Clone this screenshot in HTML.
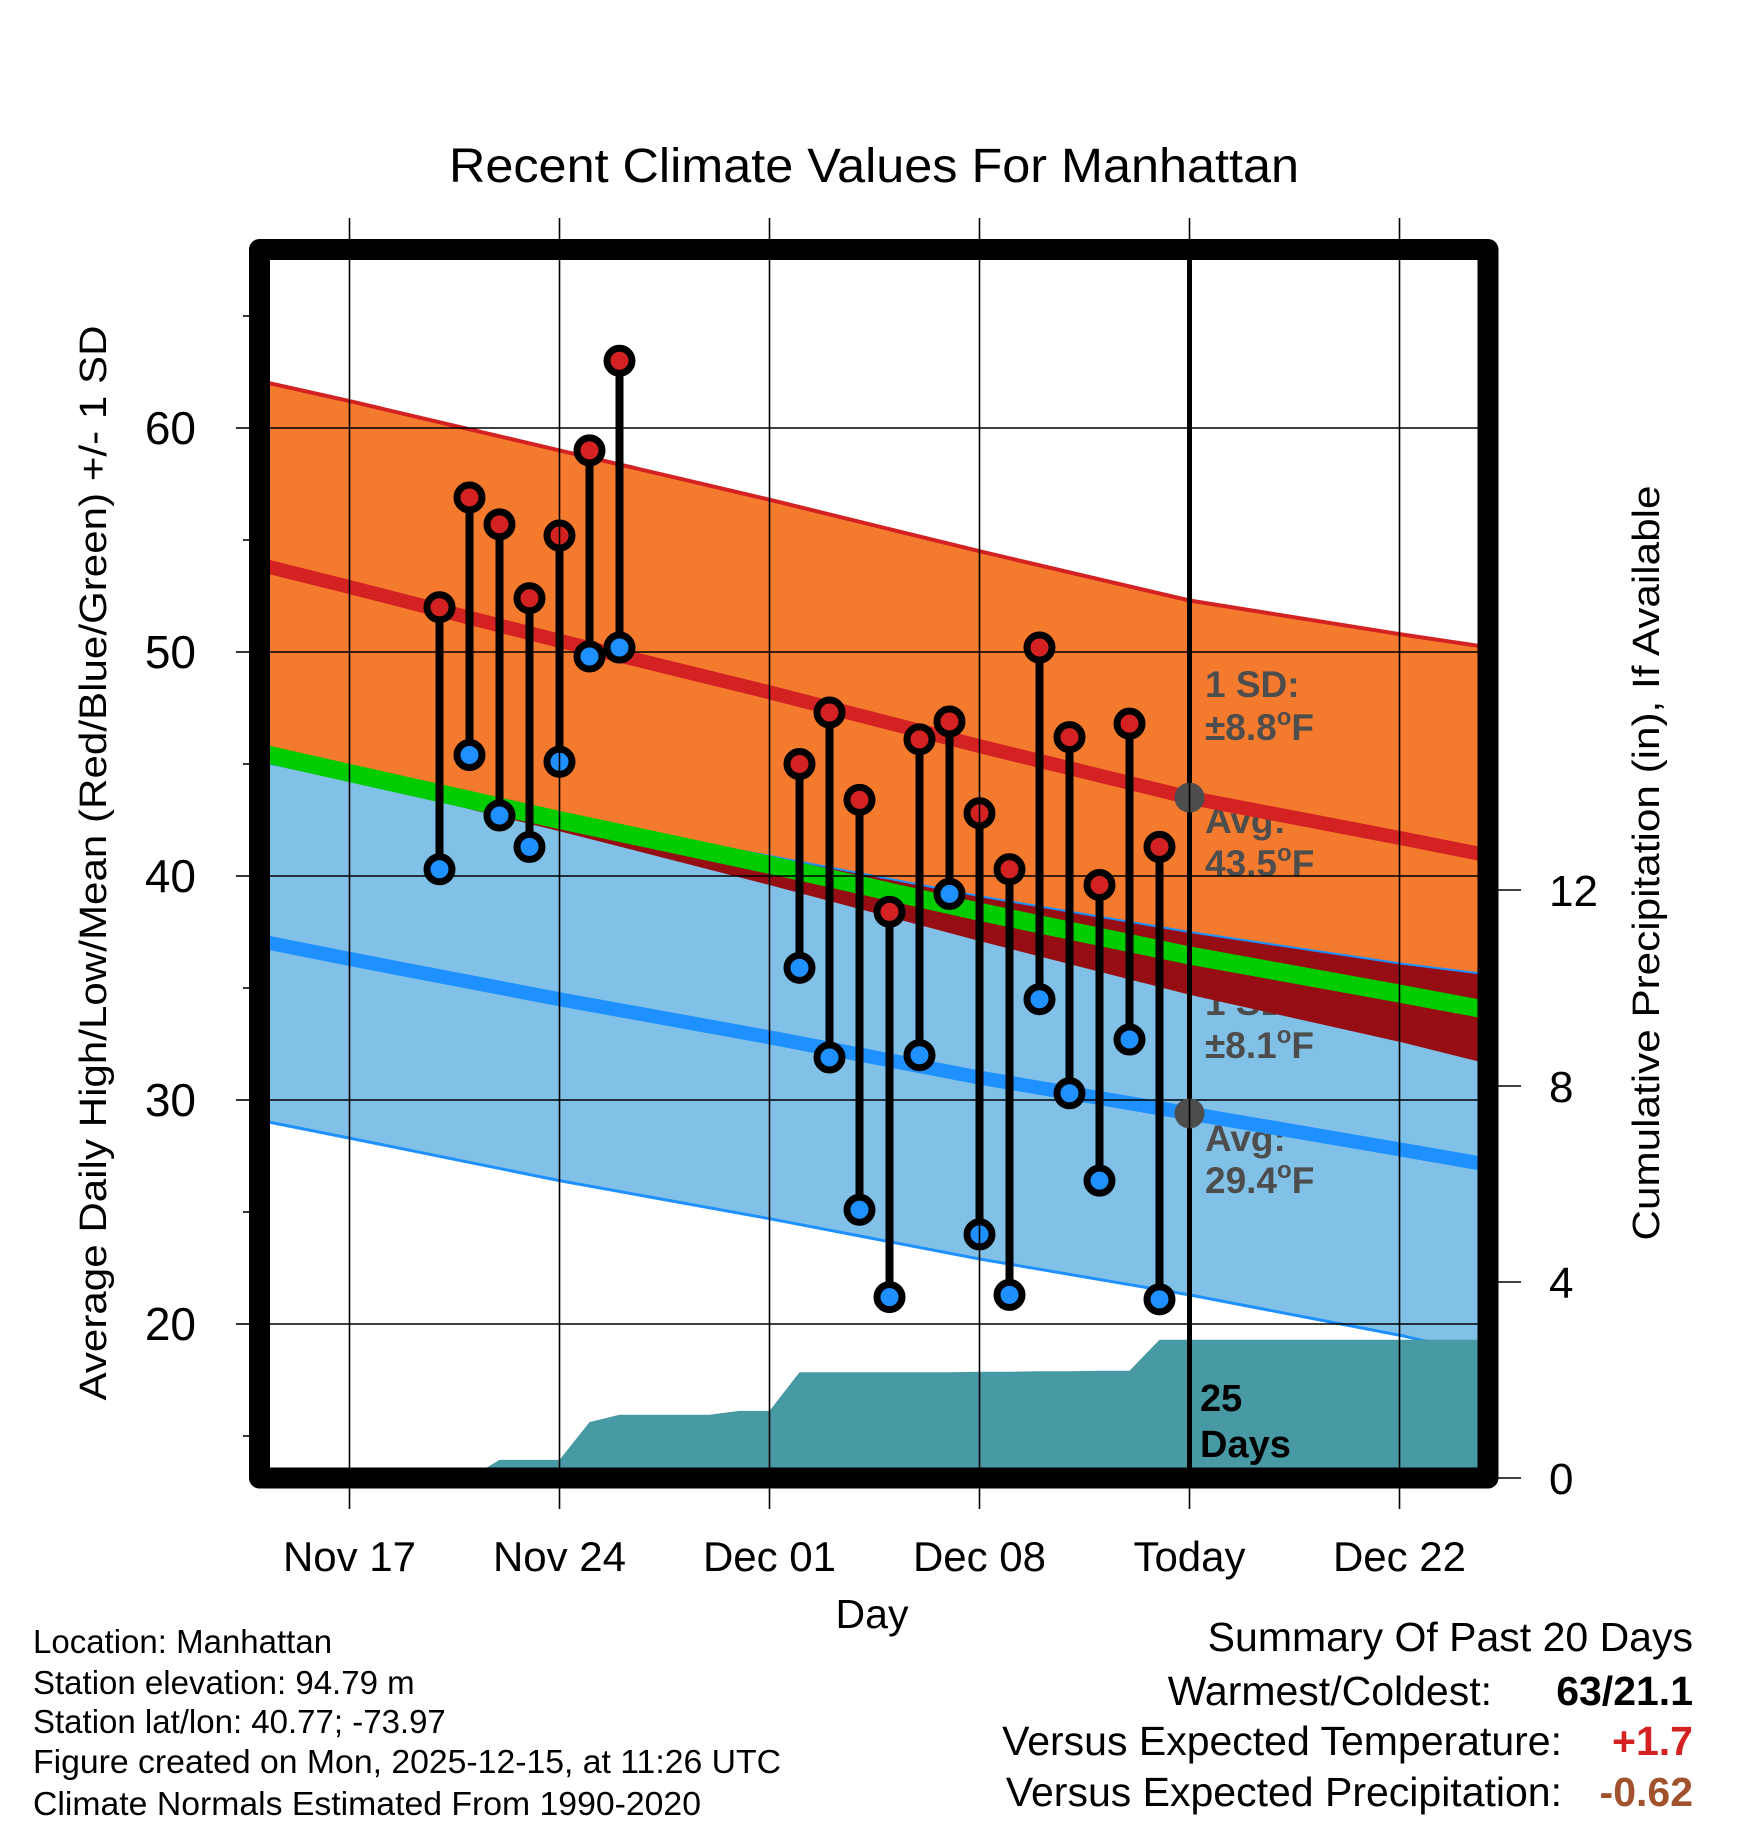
<!DOCTYPE html>
<html><head><meta charset="utf-8">
<style>
html,body{margin:0;padding:0;background:#fff;}
svg{display:block;font-family:"Liberation Sans",Arial,sans-serif;}
</style></head>
<body>
<svg id="chart" width="1748" height="1828" viewBox="0 0 1748 1828" xmlns="http://www.w3.org/2000/svg">
<defs><clipPath id="plotclip"><rect x="270" y="260" width="1208" height="1208"/></clipPath></defs>
<g id="plot" clip-path="url(#plotclip)"></g>
<g id="over"></g>
</svg>
<script>
// ---- data ----
const normDays = [-3, 0, 7, 14, 21, 28, 35, 38];            // days since Nov 17
const normHigh = [53.9, 52.9, 50.5, 48.2, 45.8, 43.5, 41.7, 40.9];
const normHighSD = [8.2, 8.3, 8.5, 8.6, 8.7, 8.8, 9.1, 9.3];
const normLow = [37.1, 36.3, 34.5, 32.8, 31.0, 29.4, 27.8, 27.1];
const normLowSD = [8.0, 8.0, 8.1, 8.1, 8.1, 8.1, 8.3, 8.5];
const obsDays = [3,4,5,6,7,8,9, 15,16,17,18,19,20,21,22,23,24,25,26,27];
const obsHigh = [52,56.9,55.7,52.4,55.2,59,63, 45,47.3,43.4,38.4,46.1,46.9,42.8,40.3,50.2,46.2,39.6,46.8,41.3];
const obsLow = [40.3,45.4,42.7,41.3,45.1,49.8,50.2, 35.9,31.9,25.1,21.2,32,39.2,24,21.3,34.5,30.3,26.4,32.7,21.1];
const precDays = [-3,4,5,6,7,8,9,10,11,12,13,14,15,16,17,18,19,20,21,22,23,24,25,26,27,28,38];
const precCum = [0,0,0.37,0.37,0.37,1.14,1.29,1.29,1.29,1.29,1.37,1.37,2.16,2.16,2.16,2.16,2.16,2.16,2.17,2.17,2.18,2.18,2.19,2.19,2.82,2.82,2.82];
const xTickDays = [0,7,14,21,28,35];
const xTickLabels = ["Nov 17","Nov 24","Dec 01","Dec 08","Today","Dec 22"];
const yTicks = [20,30,40,50,60];
const yMinor = [15,25,35,45,55,65];
const pTicks = [0,4,8,12];
const todayDay = 28;

// ---- axes ----
const X = d => 349.5 + 30*d;
const Y = t => 428 + (60 - t)*22.4;
const YP = p => 1478 - 49*p;
const NS = "http://www.w3.org/2000/svg";
const plot = document.getElementById('plot');
const over = document.getElementById('over');
function mk(tag, attrs, parent){const e=document.createElementNS(NS,tag);for(const k in attrs)e.setAttribute(k,attrs[k]);parent.appendChild(e);return e;}
const pts = (ds, vs, f) => ds.map((d,i)=>X(d).toFixed(1)+','+f(vs[i]).toFixed(1));
const hiU = normHigh.map((v,i)=>v+normHighSD[i]);
const hiL = normHigh.map((v,i)=>v-normHighSD[i]);
const loU = normLow.map((v,i)=>v+normLowSD[i]);
const loL = normLow.map((v,i)=>v-normLowSD[i]);
const mean = normHigh.map((v,i)=>(v+normLow[i])/2);
const rev = a => a.slice().reverse();

let e;
e = mk('polygon',{points:pts(normDays,hiU,Y).concat(rev(pts(normDays,hiL,Y))).join(' '),fill:'#f47a2e'},plot);
 
e = mk('polygon',{points:pts(normDays,loU,Y).concat(rev(pts(normDays,loL,Y))).join(' '),fill:'#82c1e7'},plot);
 
// annotations (behind overlap)
const ann = [["1 SD:",697,0],["±8.8",740,1],["Avg:",833,0],["43.5",876,1],["1 SD:",1015,0],["±8.1",1058,1],["Avg:",1151,0],["29.4",1193,1]];
ann.forEach((a,i)=>{const t=mk('text',{x:1205,y:a[1],'font-size':37,'font-weight':'bold',fill:'#4d4d4d'},plot);
t.textContent=a[0];
if(a[2]){const s=mk('tspan',{dy:-15,'font-size':24},t);s.textContent='o';const f=mk('tspan',{dy:15},t);f.textContent='F';}
 });
// overlap (dark red)
e = mk('polygon',{points:pts(normDays,normDays.map((d,i)=>Math.min(hiL[i],loU[i])),Y).concat(rev(pts(normDays,loU,Y))).join(' '),fill:'#960e14'},plot);
 
e = mk('polyline',{points:pts(normDays,loU,Y).join(' '),fill:'none',stroke:'#1e90ff','stroke-width':2},plot);
 
e = mk('polyline',{points:pts(normDays,hiU,Y).join(' '),fill:'none',stroke:'#d42222','stroke-width':4},plot);
 
e = mk('polyline',{points:pts(normDays,loL,Y).join(' '),fill:'none',stroke:'#1e90ff','stroke-width':3},plot);
 
e = mk('polyline',{points:pts(normDays,mean,Y).join(' '),fill:'none',stroke:'#00cc00','stroke-width':18},plot);
 
e = mk('polyline',{points:pts(normDays,normHigh,Y).join(' '),fill:'none',stroke:'#d42222','stroke-width':14},plot);
 
e = mk('polyline',{points:pts(normDays,normLow,Y).join(' '),fill:'none',stroke:'#1e90ff','stroke-width':14},plot);
 
// precipitation
e = mk('polygon',{points:pts(precDays,precCum,YP).concat([X(38)+','+1480, X(-3)+','+1480]).join(' '),fill:'#4799a3'},plot);
 
// grid
yTicks.forEach(t=>{const l=mk('line',{x1:270,x2:1478,y1:Y(t),y2:Y(t),stroke:'#000','stroke-width':1.6},plot);
 });
xTickDays.forEach(d=>{const l=mk('line',{x1:X(d),x2:X(d),y1:218,y2:1509,stroke:'#000','stroke-width':1.6},over);
 });
// today line + avg dots
e = mk('line',{x1:X(todayDay),x2:X(todayDay),y1:260,y2:1468,stroke:'#000','stroke-width':5},plot);
 
[normHigh[normDays.indexOf(todayDay)], normLow[normDays.indexOf(todayDay)]].forEach(v=>{
 const c=mk('circle',{cx:X(todayDay),cy:Y(v),r:15,fill:'#4d4d4d'},plot);
  });
const t25 = mk('text',{x:1200,y:1411,'font-size':38,'font-weight':'bold',fill:'#000'},plot); t25.textContent='25';
 
const tD = mk('text',{x:1200,y:1457,'font-size':38,'font-weight':'bold',fill:'#000'},plot); tD.textContent='Days';
 
// observations
obsDays.forEach((d,i)=>{
 const s=mk('line',{x1:X(d),x2:X(d),y1:Y(obsHigh[i]),y2:Y(obsLow[i]),stroke:'#000','stroke-width':8},plot);
  
 const h=mk('circle',{cx:X(d),cy:Y(obsHigh[i]),r:12.5,fill:'#d42222',stroke:'#000','stroke-width':7},plot);
  
 const l=mk('circle',{cx:X(d),cy:Y(obsLow[i]),r:12.5,fill:'#1e90ff',stroke:'#000','stroke-width':7},plot);
  
});
// frame
e = mk('rect',{x:259.5,y:249.5,width:1228.5,height:1228.5,fill:'none',stroke:'#000','stroke-width':21,'stroke-linejoin':'round'},over);
 
// y ticks
yTicks.forEach(t=>{const l=mk('line',{x1:236,x2:250,y1:Y(t),y2:Y(t),stroke:'#000','stroke-width':1.6},over);
  
 const tx=mk('text',{x:196,y:Y(t)+16,'font-size':46,'text-anchor':'end'},over); tx.textContent=t;
  });
yMinor.forEach(t=>{const l=mk('line',{x1:243,x2:250,y1:Y(t),y2:Y(t),stroke:'#000','stroke-width':1.6},over);
  });
pTicks.forEach(p=>{const l=mk('line',{x1:1498,x2:1521,y1:YP(p),y2:YP(p),stroke:'#000','stroke-width':1.6},over);
  
 const tx=mk('text',{x:1549,y:YP(p)+16,'font-size':44},over); tx.textContent=p;
  });
xTickDays.forEach((d,i)=>{const tx=mk('text',{x:X(d),y:1571,'font-size':42,'text-anchor':'middle'},over); tx.textContent=xTickLabels[i];
  });
</script>
<svg style="position:absolute;left:0;top:0" width="1748" height="1828" viewBox="0 0 1748 1828" xmlns="http://www.w3.org/2000/svg" font-family="Liberation Sans, Arial, sans-serif">
<text x="874" y="182" font-size="48" text-anchor="middle" textLength="850" lengthAdjust="spacingAndGlyphs">Recent Climate Values For Manhattan</text>
<text x="872" y="1628" font-size="41" text-anchor="middle">Day</text>
<text transform="translate(106,863) rotate(-90)" font-size="38" text-anchor="middle" textLength="1075" lengthAdjust="spacingAndGlyphs">Average Daily High/Low/Mean (Red/Blue/Green) +/- 1 SD</text>
<text transform="translate(1659,863) rotate(-90)" font-size="38" text-anchor="middle" textLength="755" lengthAdjust="spacingAndGlyphs">Cumulative Precipitation (in), If Available</text>
<g font-size="33">
<text x="33" y="1653">Location: Manhattan</text>
<text x="33" y="1694">Station elevation: 94.79 m</text>
<text x="33" y="1733">Station lat/lon: 40.77; -73.97</text>
<text x="33" y="1773" textLength="748" lengthAdjust="spacingAndGlyphs">Figure created on Mon, 2025-12-15, at 11:26 UTC</text>
<text x="33" y="1815" textLength="668" lengthAdjust="spacingAndGlyphs">Climate Normals Estimated From 1990-2020</text>
</g>
<g font-size="41">
<text x="1693" y="1651" text-anchor="end">Summary Of Past 20 Days</text>
<text x="1492" y="1705" text-anchor="end">Warmest/Coldest:</text>
<text x="1693" y="1705" text-anchor="end" font-weight="bold">63/21.1</text>
<text x="1562" y="1755" text-anchor="end">Versus Expected Temperature:</text>
<text x="1693" y="1755" text-anchor="end" font-weight="bold" fill="#d42222">+1.7</text>
<text x="1562" y="1806" text-anchor="end">Versus Expected Precipitation:</text>
<text x="1693" y="1806" text-anchor="end" font-weight="bold" fill="#a0522d">-0.62</text>
</g>
</svg>
</body></html>
